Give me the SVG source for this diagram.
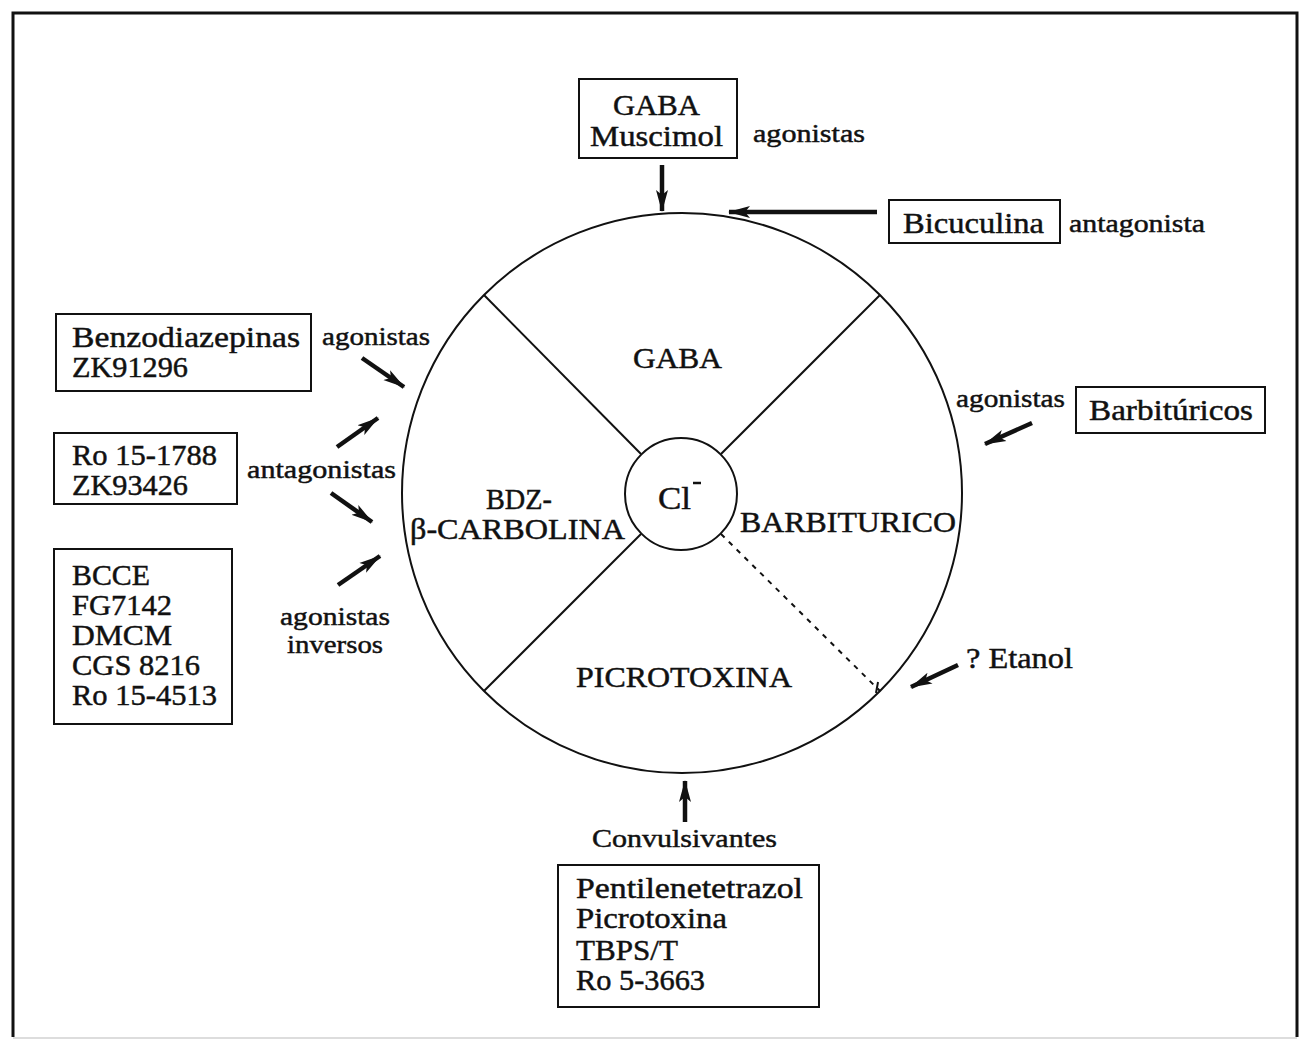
<svg xmlns="http://www.w3.org/2000/svg" width="1304" height="1042" viewBox="0 0 1304 1042">
<style>
text{font-family:"Liberation Serif","Times New Roman",serif;fill:#111;stroke:#111;stroke-width:0.45;}
.bx{font-size:29px;}
.lb{font-size:25px;}
.in{font-size:29px;}
.box{fill:none;stroke:#111;stroke-width:2;}
.ln{fill:none;stroke:#111;stroke-width:2;}
.ar{fill:none;stroke:#111;stroke-width:4.5;marker-end:url(#ah);}
</style>
<defs>
<marker id="ah" viewBox="0 0 22 14" refX="21" refY="7" markerWidth="22" markerHeight="14" markerUnits="userSpaceOnUse" orient="auto">
<path d="M0,1 L22,7 L0,13 L5,7 z" fill="#111"/>
</marker>
</defs>
<rect width="1304" height="1042" fill="#fff"/>
<g id="frame">
<path d="M13,1037 L13,13 L1297,13 L1297,1037" fill="none" stroke="#111" stroke-width="3"/>
<path d="M13,1038 L1297,1038" fill="none" stroke="#ddd" stroke-width="2"/>
</g>
<g id="receptor">
<circle cx="682" cy="493" r="280" class="ln"/>
<circle cx="681" cy="494" r="56" class="ln"/>
<line x1="641" y1="454" x2="484" y2="295" class="ln"/>
<line x1="721" y1="454" x2="880" y2="295" class="ln"/>
<line x1="641" y1="534" x2="484" y2="691" class="ln"/>
<line x1="721" y1="534" x2="880" y2="691" class="ln" stroke-dasharray="5,6"/>
<line x1="876" y1="693" x2="878" y2="682" class="ln"/>
<text class="in" x="633" y="368" textLength="89" lengthAdjust="spacingAndGlyphs">GABA</text>
<text class="in" x="486" y="509" textLength="66" lengthAdjust="spacingAndGlyphs">BDZ-</text>
<text class="in" x="410" y="539" textLength="215" lengthAdjust="spacingAndGlyphs">β-CARBOLINA</text>
<text class="in" x="658" y="509" style="font-size:31px" textLength="33" lengthAdjust="spacingAndGlyphs">Cl</text>
<line x1="693" y1="483" x2="701" y2="483" stroke="#111" stroke-width="2.5"/>
<text class="in" x="740" y="532" textLength="216" lengthAdjust="spacingAndGlyphs">BARBITURICO</text>
<text class="in" x="576" y="687" textLength="216" lengthAdjust="spacingAndGlyphs">PICROTOXINA</text>
</g>
<g id="gaba">
<rect x="579" y="79" width="158" height="79" class="box"/>
<text class="bx" x="613" y="115" textLength="87" lengthAdjust="spacingAndGlyphs">GABA</text>
<text class="bx" x="590" y="146" textLength="133" lengthAdjust="spacingAndGlyphs">Muscimol</text>
<text class="lb" x="753" y="142" textLength="112" lengthAdjust="spacingAndGlyphs">agonistas</text>
</g>
<g id="bicuculina">
<rect x="889" y="200" width="171" height="43" class="box"/>
<text class="bx" x="903" y="233" textLength="141" lengthAdjust="spacingAndGlyphs">Bicuculina</text>
<text class="lb" x="1069" y="232" textLength="136" lengthAdjust="spacingAndGlyphs">antagonista</text>
</g>
<g id="benzodiazepinas">
<rect x="56" y="314" width="255" height="77" class="box"/>
<text class="bx" x="72" y="347" textLength="228" lengthAdjust="spacingAndGlyphs">Benzodiazepinas</text>
<text class="bx" x="72" y="377" textLength="116" lengthAdjust="spacingAndGlyphs">ZK91296</text>
<text class="lb" x="322" y="345" textLength="108" lengthAdjust="spacingAndGlyphs">agonistas</text>
</g>
<g id="antagonistas">
<rect x="54" y="433" width="183" height="71" class="box"/>
<text class="bx" x="72" y="465" textLength="145" lengthAdjust="spacingAndGlyphs">Ro 15-1788</text>
<text class="bx" x="72" y="495" textLength="116" lengthAdjust="spacingAndGlyphs">ZK93426</text>
<text class="lb" x="247" y="478" textLength="149" lengthAdjust="spacingAndGlyphs">antagonistas</text>
</g>
<g id="inversos">
<rect x="54" y="549" width="178" height="175" class="box"/>
<text class="bx" x="72" y="585" textLength="78" lengthAdjust="spacingAndGlyphs">BCCE</text>
<text class="bx" x="72" y="615" textLength="100" lengthAdjust="spacingAndGlyphs">FG7142</text>
<text class="bx" x="72" y="645" textLength="100" lengthAdjust="spacingAndGlyphs">DMCM</text>
<text class="bx" x="72" y="675" textLength="128" lengthAdjust="spacingAndGlyphs">CGS 8216</text>
<text class="bx" x="72" y="705" textLength="145" lengthAdjust="spacingAndGlyphs">Ro 15-4513</text>
<text class="lb" x="280" y="625" textLength="110" lengthAdjust="spacingAndGlyphs">agonistas</text>
<text class="lb" x="287" y="653" textLength="96" lengthAdjust="spacingAndGlyphs">inversos</text>
</g>
<g id="barbituricos">
<rect x="1076" y="387" width="189" height="46" class="box"/>
<text class="bx" x="1089" y="420" textLength="164" lengthAdjust="spacingAndGlyphs">Barbitúricos</text>
<text class="lb" x="956" y="407" textLength="109" lengthAdjust="spacingAndGlyphs">agonistas</text>
</g>
<g id="etanol">
<text class="bx" x="966" y="668" textLength="107" lengthAdjust="spacingAndGlyphs">? Etanol</text>
</g>
<g id="convulsivantes">
<rect x="558" y="865" width="261" height="142" class="box"/>
<text class="bx" x="576" y="898" textLength="227" lengthAdjust="spacingAndGlyphs">Pentilenetetrazol</text>
<text class="bx" x="576" y="928" textLength="151" lengthAdjust="spacingAndGlyphs">Picrotoxina</text>
<text class="bx" x="576" y="960" textLength="102" lengthAdjust="spacingAndGlyphs">TBPS/T</text>
<text class="bx" x="576" y="990" textLength="129" lengthAdjust="spacingAndGlyphs">Ro 5-3663</text>
<text class="lb" x="592" y="847" textLength="185" lengthAdjust="spacingAndGlyphs">Convulsivantes</text>
</g>
<g id="connectors">
<line x1="662" y1="165" x2="662" y2="211" class="ar"/>
<line x1="877" y1="212" x2="729" y2="212" class="ar"/>
<line x1="362" y1="358" x2="404" y2="387" class="ar"/>
<line x1="337" y1="447" x2="378" y2="418" class="ar"/>
<line x1="331" y1="493" x2="372" y2="522" class="ar"/>
<line x1="338" y1="585" x2="380" y2="556" class="ar"/>
<line x1="1032" y1="423" x2="985" y2="444" class="ar"/>
<line x1="958" y1="665" x2="911" y2="687" class="ar"/>
<line x1="685" y1="822" x2="685" y2="781" class="ar"/>
</g>
</svg>
